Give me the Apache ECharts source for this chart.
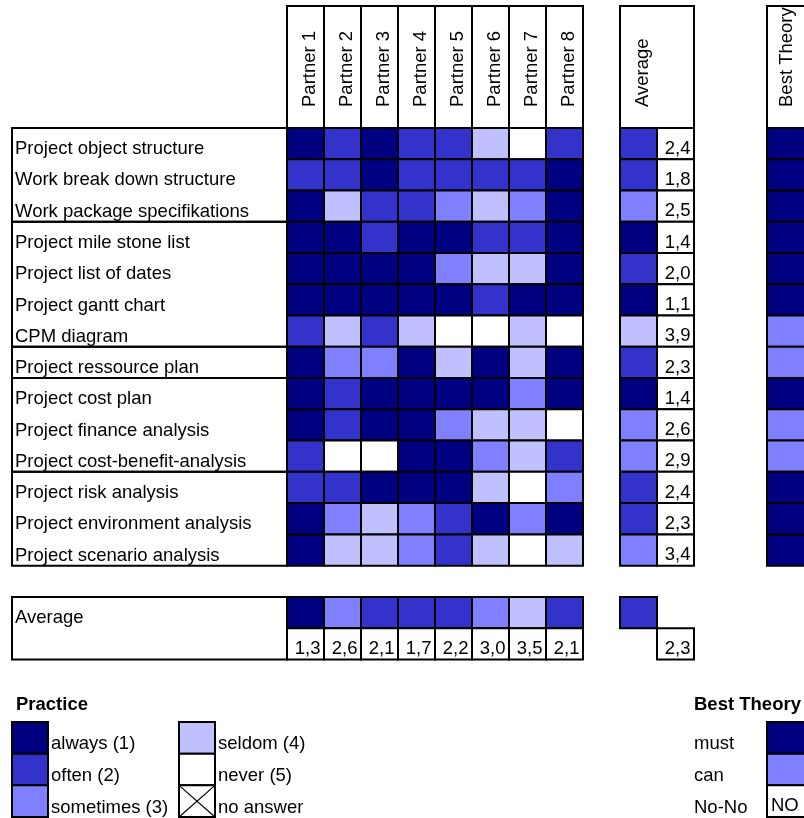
<!DOCTYPE html>
<html><head><meta charset="utf-8">
<script src="https://cdn.jsdelivr.net/npm/echarts@6/dist/echarts.min.js"></script>
<style>html,body{margin:0;padding:0;background:#fff}#chart{width:804px;height:818px}</style>
</head><body><div id="chart"></div>
<script>
// ---------- data ----------
const partners = ['Partner 1','Partner 2','Partner 3','Partner 4','Partner 5','Partner 6','Partner 7','Partner 8'];
const rowNames = [
  'Project object structure','Work break down structure','Work package specifikations',
  'Project mile stone list','Project list of dates','Project gantt chart','CPM diagram',
  'Project ressource plan',
  'Project cost plan','Project finance analysis','Project cost-benefit-analysis',
  'Project risk analysis','Project environment analysis','Project scenario analysis'
];
// 1 always, 2 often, 3 sometimes, 4 seldom, 5 never
const practice = [
  [1,2,1,2,2,4,5,2],
  [2,2,1,2,2,2,2,1],
  [1,4,2,2,3,4,3,1],
  [1,1,2,1,1,2,2,1],
  [1,1,1,1,3,4,4,1],
  [1,1,1,1,1,2,1,1],
  [2,4,2,4,5,5,4,5],
  [1,3,3,1,4,1,4,1],
  [1,2,1,1,1,1,3,1],
  [1,2,1,1,3,4,4,5],
  [2,5,5,1,1,3,4,2],
  [2,2,1,1,1,4,5,3],
  [1,3,4,3,2,1,3,1],
  [1,4,4,3,2,4,5,4]
];
const rowAverages = [2.4,1.8,2.5,1.4,2.0,1.1,3.9,2.3,1.4,2.6,2.9,2.4,2.3,3.4];
const colAverages = [1.3,2.6,2.1,1.7,2.2,3.0,3.5,2.1];
const overallAverage = 2.3;
const bestTheory = [1,1,1,1,1,1,3,3,1,3,3,1,1,1]; // 1 must, 3 can
const groupSizes = [3,4,1,3,3];
const practiceLegendA = ['always (1)','often (2)','sometimes (3)'];
const practiceLegendACodes = [1,2,3];
const practiceLegendB = ['seldom (4)','never (5)','no answer'];
const practiceLegendBCodes = [4,5,0];
const theoryLegend = ['must','can','No-No'];
const theoryLegendCodes = [1,3,5];
const theoryLegendTexts = ['','','NO'];

// ---------- styles ----------
const PALETTE = {0:'#FFFFFF',1:'#000080',2:'#3333CC',3:'#8080FF',4:'#C0C0FF',5:'#FFFFFF'};
const LINE = 2;
const FS = 18.5;
const FONT_FAMILY = '"Liberation Sans", Arial, Helvetica, sans-serif';
const fmt = v => v.toFixed(1).replace('.', ',');

function cellSeries(gridIndex, cells) {
  return {
    type: 'custom',
    xAxisIndex: gridIndex, yAxisIndex: gridIndex,
    clip: false,
    data: cells.map(c => [c.x, c.y]),
    renderItem: (params, api) => {
      const c = cells[params.dataIndex];
      const center = api.coord([api.value(0), api.value(1)]);
      const size = api.size([1, 1]);
      const w = size[0] * (c.w || 1), h = size[1] * (c.h || 1);
      const x0 = center[0] - size[0] / 2, y0 = center[1] - size[1] / 2;
      const children = [{
        type: 'rect', shape: {x: x0, y: y0, width: w, height: h},
        style: {fill: c.fill, stroke: '#000', lineWidth: LINE}
      }];
      if (c.cross) {
        children.push({type:'line', shape:{x1:x0,y1:y0,x2:x0+w,y2:y0+h}, style:{stroke:'#000', lineWidth:1.2}});
        children.push({type:'line', shape:{x1:x0+w,y1:y0,x2:x0,y2:y0+h}, style:{stroke:'#000', lineWidth:1.2}});
      }
      if (c.text) {
        const left = c.align === 'left';
        children.push({
          type: 'text',
          style: {
            text: c.text, x: left ? x0 + 4 : x0 + w - 3.5, y: y0 + h / 2 + 5,
            align: left ? 'left' : 'right', verticalAlign: 'middle',
            fontSize: FS, fontFamily: FONT_FAMILY, fill: '#000'
          }
        });
      }
      return {type: 'group', children};
    }
  };
}

const hidden = {axisLine:{show:false}, axisTick:{show:false}, splitLine:{show:false}, axisLabel:{show:false}};
function xCat(gridIndex, data, label) {
  return Object.assign({type:'category', gridIndex, data, position:'bottom'}, hidden, label ? {axisLabel: label} : {});
}
function yCat(gridIndex, data, label, extra) {
  return Object.assign({type:'category', gridIndex, data, inverse:true}, hidden, label ? {axisLabel: label} : {}, extra || {});
}
// verticalAlign 'top' + small lineHeight shifts the text centre by lineHeight/2 from the tick
const headerLabel = {show:true, inside:true, rotate:90, margin:21, interval:0, fontSize:FS, color:'#000', fontFamily: FONT_FAMILY, verticalAlign:'top', lineHeight:8};
function sideLabel(margin, shift, extra) {
  return Object.assign({show:true, margin, interval:0, fontSize:FS, color:'#000', fontFamily: FONT_FAMILY, verticalAlign:'top', lineHeight: shift * 2}, extra || {});
}

const ROW_H = 31.26;
const grids = [
  {left:287, top:6,   width:296, height:122},            // 0 partner headers
  {left:287, top:128, width:296, height:ROW_H*14},       // 1 matrix
  {left:620, top:6,   width:74,  height:122},            // 2 average header
  {left:620, top:128, width:74,  height:ROW_H*14},       // 3 average column
  {left:767, top:6,   width:74,  height:122},            // 4 best theory header
  {left:767, top:128, width:50,  height:ROW_H*14},       // 5 best theory column
  {left:12,  top:128, width:275, height:ROW_H*14},       // 6 label column
  {left:12,  top:597, width:275, height:ROW_H*2},        // 7 average row label
  {left:287, top:597, width:296, height:ROW_H*2},        // 8 average row
  {left:620, top:597, width:74,  height:ROW_H*2},        // 9 overall average
  {left:12,  top:722, width:36,  height:95},             // 10 legend practice A
  {left:179, top:722, width:36,  height:95},             // 11 legend practice B
  {left:767, top:722, width:50,  height:95}              // 12 legend best theory
].map(g => Object.assign({containLabel:false, outerBoundsMode:'none'}, g));

const xAxes = [
  xCat(0, partners, headerLabel),
  xCat(1, partners),
  xCat(2, ['Average',''], headerLabel),
  xCat(3, ['color','value']),
  xCat(4, ['Best Theory',''], Object.assign({}, headerLabel, {lineHeight:2})),
  xCat(5, ['best']),
  xCat(6, ['label']),
  xCat(7, ['label']),
  xCat(8, partners),
  xCat(9, ['color','value']),
  xCat(10, ['swatch']),
  xCat(11, ['swatch']),
  xCat(12, ['swatch'])
];
const yAxes = [
  yCat(0, ['header']),
  yCat(1, rowNames),
  yCat(2, ['header']),
  yCat(3, rowNames),
  yCat(4, ['header']),
  yCat(5, rowNames),
  yCat(6, rowNames, sideLabel(3, 5.5, {inside:true})),
  yCat(7, ['Average',''], sideLabel(3, 5.5, {inside:true})),
  yCat(8, ['color','value']),
  yCat(9, ['color','value']),
  yCat(10, practiceLegendA, sideLabel(3, 6.5), {position:'right'}),
  yCat(11, practiceLegendB, sideLabel(3, 6.5), {position:'right'}),
  yCat(12, theoryLegend, sideLabel(73, 6.5, {align:'left'}), {position:'left'})
];

// ---------- cells ----------
const matrixCells = [];
practice.forEach((row, r) => row.forEach((v, c) => matrixCells.push({x:c, y:r, fill:PALETTE[v]})));
const avgColCells = [];
rowAverages.forEach((v, r) => {
  avgColCells.push({x:0, y:r, fill:PALETTE[Math.round(v)]});
  avgColCells.push({x:1, y:r, fill:'#FFFFFF', text:fmt(v)});
});
const groupCells = [];
let start = 0;
groupSizes.forEach(s => { groupCells.push({x:0, y:start, h:s, fill:'none'}); start += s; });
const avgRowCells = [];
colAverages.forEach((v, c) => {
  avgRowCells.push({x:c, y:0, fill:PALETTE[Math.round(v)]});
  avgRowCells.push({x:c, y:1, fill:'#FFFFFF', text:fmt(v)});
});

const series = [
  cellSeries(0, partners.map((p, i) => ({x:i, y:0, fill:'none'}))),
  cellSeries(1, matrixCells),
  cellSeries(2, [{x:0, y:0, w:2, fill:'none'}]),
  cellSeries(3, avgColCells),
  cellSeries(4, [{x:0, y:0, w:2, fill:'none'}]),
  cellSeries(5, bestTheory.map((v, r) => ({x:0, y:r, fill:PALETTE[v]}))),
  cellSeries(6, groupCells),
  cellSeries(7, [{x:0, y:0, h:2, fill:'none'}]),
  cellSeries(8, avgRowCells),
  cellSeries(9, [{x:0, y:0, fill:PALETTE[Math.round(overallAverage)]}, {x:1, y:1, fill:'#FFFFFF', text:fmt(overallAverage)}]),
  cellSeries(10, practiceLegendACodes.map((v, i) => ({x:0, y:i, fill:PALETTE[v]}))),
  cellSeries(11, practiceLegendBCodes.map((v, i) => ({x:0, y:i, fill:PALETTE[v], cross: v === 0}))),
  cellSeries(12, theoryLegendCodes.map((v, i) => ({x:0, y:i, fill:PALETTE[v], text:theoryLegendTexts[i], align:'left'})))
];

const titleStyle = {fontSize:FS, fontWeight:'bold', color:'#000', fontFamily: FONT_FAMILY, lineHeight:18};
const option = {
  animation: false,
  backgroundColor: '#FFFFFF',
  textStyle: {fontFamily: FONT_FAMILY},
  title: [
    {text:'Practice', left:16, top:695.5, padding:0, textStyle:titleStyle},
    {text:'Best Theory', left:694, top:695.5, padding:0, textStyle:titleStyle}
  ],
  grid: grids,
  xAxis: xAxes,
  yAxis: yAxes,
  series
};
const chart = echarts.init(document.getElementById('chart'), null, {renderer:'canvas'});
chart.setOption(option);
</script>
</body></html>
